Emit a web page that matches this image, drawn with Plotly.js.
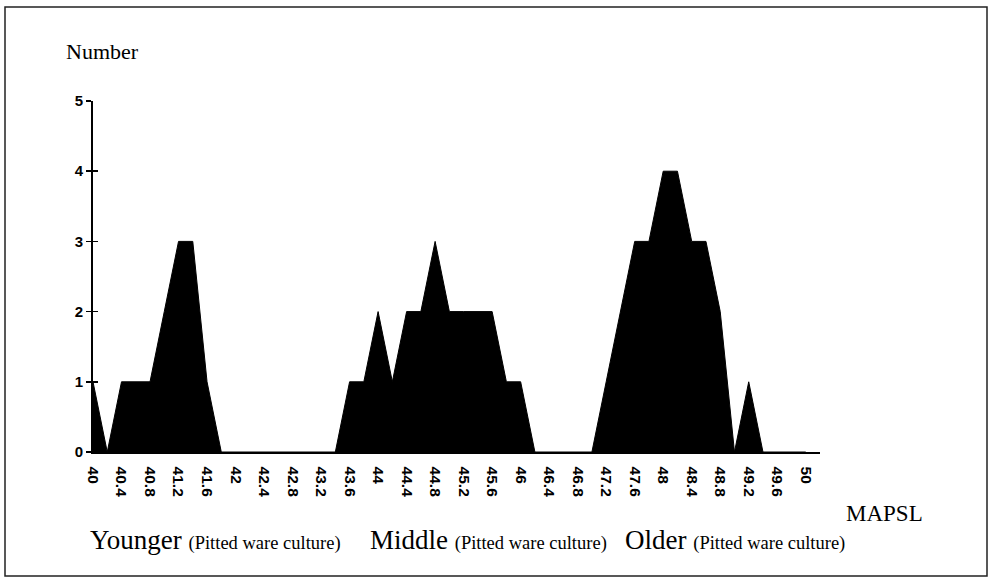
<!DOCTYPE html>
<html>
<head>
<meta charset="utf-8">
<script src="https://cdn.plot.ly/plotly-3.0.1.min.js"></script>
<style>html,body{margin:0;padding:0;background:#fff;}#chart{width:996px;height:578px;}</style>
</head>
<body>
<div id="chart"></div>
<script>
// Height above sea level (MAPSL), step 0.2
const mapsl = [40.0,40.2,40.4,40.6,40.8,41.0,41.2,41.4,41.6,41.8,
  42.0,42.2,42.4,42.6,42.8,43.0,43.2,43.4,43.6,43.8,
  44.0,44.2,44.4,44.6,44.8,45.0,45.2,45.4,45.6,45.8,
  46.0,46.2,46.4,46.6,46.8,47.0,47.2,47.4,47.6,47.8,
  48.0,48.2,48.4,48.6,48.8,49.0,49.2,49.4,49.6,49.8,50.0];
const counts = [1,0,1,1,1,2,3,3,1,0,
  0,0,0,0,0,0,0,0,1,1,
  2,1,2,2,3,2,2,2,2,1,
  1,0,0,0,0,0,1,2,3,3,
  4,4,3,3,2,0,1,0,0,0,0];
const xTickVals = [40,40.4,40.8,41.2,41.6,42,42.4,42.8,43.2,43.6,44,44.4,44.8,45.2,45.6,46,46.4,46.8,47.2,47.6,48,48.4,48.8,49.2,49.6,50];
const xTickText = ["40","40.4","40.8","41.2","41.6","42","42.4","42.8","43.2","43.6","44","44.4","44.8","45.2","45.6","46","46.4","46.8","47.2","47.6","48","48.4","48.8","49.2","49.6","50"];
const yTickVals = [0,1,2,3,4,5];
const periods = ["Younger","Middle","Older"];
const periodNote = "(Pitted ware culture)";

// layout geometry (pixels)
const W = 996, H = 578;
const L = 93, R = 820, T = 101, B = 452;
const px = v => (v - L) / (R - L);
const py = v => (B - v) / (B - T);

const serif = "Liberation Serif, Times New Roman, serif";
const sansB = "Liberation Sans, Arial, sans-serif";

const periodX = [88, 368, 623];
const annotations = periods.map((p, i) => ({
  xref: "paper", yref: "paper", x: px(periodX[i]), y: py(557),
  xanchor: "left", yanchor: "bottom", showarrow: false,
  text: p + " <span style='font-size:18.5px'>" + periodNote + "</span>",
  font: {family: serif, size: 27, color: "#000"}
}));
annotations.push({xref: "paper", yref: "paper", x: px(64), y: py(52), xanchor: "left", yanchor: "middle",
  showarrow: false, text: "Number", font: {family: serif, size: 22, color: "#000"}});
annotations.push({xref: "paper", yref: "paper", x: px(844), y: py(513), xanchor: "left", yanchor: "middle",
  showarrow: false, text: "MAPSL", font: {family: serif, size: 23, color: "#000"}});

const trace = {
  x: mapsl, y: counts, type: "scatter", mode: "lines",
  fill: "tozeroy", fillcolor: "#000",
  line: {color: "#000", width: 1, shape: "linear"},
  hoverinfo: "skip", showlegend: false
};

const layout = {
  width: W, height: H,
  margin: {l: L, r: W - R, t: T, b: H - B, pad: 0},
  paper_bgcolor: "#fff", plot_bgcolor: "#fff",
  showlegend: false,
  xaxis: {
    range: [40, 50.2], showgrid: false, zeroline: false,
    showline: true, linecolor: "#000", linewidth: 1.5,
    tickmode: "array", tickvals: xTickVals, ticktext: xTickText,
    tickangle: 90, ticks: "", ticklabelstandoff: 10,
    tickfont: {family: sansB, size: 15.5, color: "#000", weight: "bold"}
  },
  yaxis: {
    range: [0, 5], showgrid: false, zeroline: false,
    showline: true, linecolor: "#000", linewidth: 2,
    tickmode: "array", tickvals: yTickVals,
    ticks: "outside", ticklen: 5, tickwidth: 1.5, tickcolor: "#000",
    tickfont: {family: sansB, size: 15, color: "#000", weight: "bold"}
  },
  yaxis2: {
    overlaying: "y", side: "left", range: [0, 5], showgrid: false, zeroline: false,
    showline: false, showticklabels: false, tickmode: "array", tickvals: yTickVals,
    ticks: "inside", ticklen: 5, tickwidth: 1.5, tickcolor: "#000"
  },
  annotations: annotations,
  shapes: [{
    type: "rect", xref: "paper", yref: "paper",
    x0: px(5), x1: px(987), y0: py(576), y1: py(7),
    line: {color: "#222", width: 1.5}, fillcolor: "rgba(0,0,0,0)"
  }]
};

Plotly.newPlot("chart", [trace, {x: [40], y: [0], yaxis: "y2", type: "scatter", mode: "none", hoverinfo: "skip", showlegend: false}], layout, {staticPlot: true, displayModeBar: false});
</script>
</body>
</html>
